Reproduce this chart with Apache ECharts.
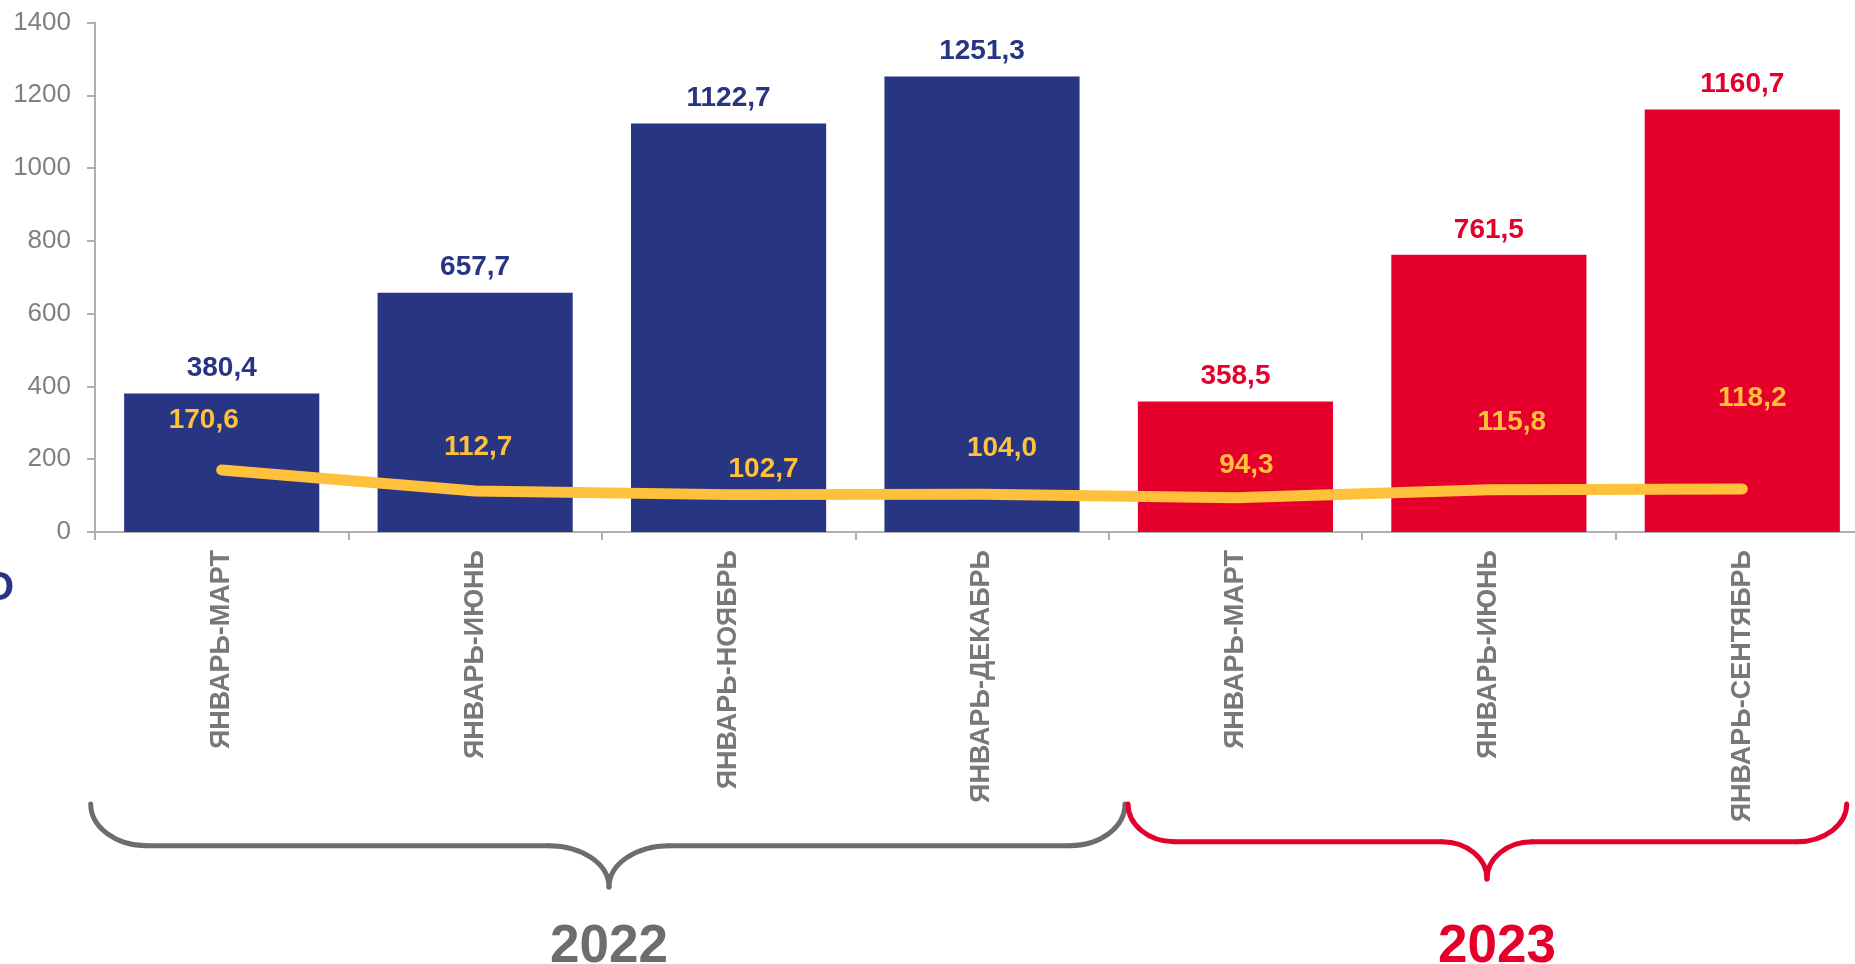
<!DOCTYPE html>
<html>
<head>
<meta charset="utf-8">
<script src="https://cdn.jsdelivr.net/npm/echarts@6/dist/echarts.min.js"></script>
<style>
html,body{margin:0;padding:0;background:#fff;overflow:hidden;}
#chart{width:1870px;height:964px;}
</style>
</head>
<body>
<div id="chart"></div>
<script>
// ---- data ----
const categories = ['ЯНВАРЬ-МАРТ','ЯНВАРЬ-ИЮНЬ','ЯНВАРЬ-НОЯБРЬ','ЯНВАРЬ-ДЕКАБРЬ','ЯНВАРЬ-МАРТ','ЯНВАРЬ-ИЮНЬ','ЯНВАРЬ-СЕНТЯБРЬ'];
const years = ['2022','2022','2022','2022','2023','2023','2023'];
const barValues = [380.4, 657.7, 1122.7, 1251.3, 358.5, 761.5, 1160.7];
const lineValues = [170.6, 112.7, 102.7, 104.0, 94.3, 115.8, 118.2];
const yAxisMin = 0, yAxisMax = 1400, yAxisStep = 200;
const yearLabels = ['2022', '2023'];

// ---- styles ----
const NAVY = '#283583', RED = '#E4002B', YELLOW = '#FFC13B', GRAY = '#6d6d6d';
const yearColor = { '2022': NAVY, '2023': RED };
const lineLabelOffsets = [[-18,-50],[3,-44],[35,-25],[20,-46],[11,-32],[23,-68],[10,-91]];
const FONT = '"Liberation Sans", Arial, sans-serif';
const fmt = v => v.toFixed(1).replace('.', ',');

function brace(x1, x2, xm, yT, yM, yB, r1, rm, r2, color) {
  const k = 0.5523, ry = yM - yT, rb = yB - yM;
  const st = { stroke: color, lineWidth: 5, fill: null, lineCap: 'round' };
  const bz = (a, b, c, d, e, f, g, h) => ({ type: 'bezierCurve', silent: true,
    shape: { x1: a, y1: b, cpx1: c, cpy1: d, cpx2: e, cpy2: f, x2: g, y2: h }, style: Object.assign({}, st) });
  const ln = (a, b, c, d) => ({ type: 'line', silent: true, shape: { x1: a, y1: b, x2: c, y2: d }, style: Object.assign({}, st) });
  return [
    bz(x1, yT, x1, yT + k*ry, x1 + r1 - k*r1, yM, x1 + r1, yM),
    ln(x1 + r1, yM, xm - rm, yM),
    bz(xm - rm, yM, xm - rm + k*rm, yM, xm, yB - k*rb, xm, yB),
    bz(xm, yB, xm, yB - k*rb, xm + rm - k*rm, yM, xm + rm, yM),
    ln(xm + rm, yM, x2 - r2, yM),
    bz(x2 - r2, yM, x2 - r2 + k*r2, yM, x2, yT + k*ry, x2, yT)
  ];
}

const chart = echarts.init(document.getElementById('chart'), null, {renderer: 'canvas'});

const option = {
  animation: false,
  backgroundColor: '#fff',
  grid: { left: 95, top: 22.5, bottom: 432, right: 1, containLabel: false },
  xAxis: {
    type: 'category',
    data: categories,
    boundaryGap: true,
    axisLine: { show: true, lineStyle: { color: '#b0b0b0', width: 2 } },
    axisTick: { show: true, length: 8, lineStyle: { color: '#b0b0b0', width: 2 } },
    axisLabel: {
      rotate: 90, margin: 18, interval: 0,
      color: '#787878', fontFamily: FONT, fontWeight: 'bold', fontSize: 27
    }
  },
  yAxis: {
    type: 'value',
    min: yAxisMin, max: yAxisMax, interval: yAxisStep,
    axisLine: { show: true, lineStyle: { color: '#b0b0b0', width: 2 } },
    axisTick: { show: true, length: 8, lineStyle: { color: '#b0b0b0', width: 2 } },
    splitLine: { show: false },
    axisLabel: { margin: 24, color: '#808080', fontFamily: FONT, fontSize: 26,
      formatter: v => String(v) }
  },
  series: [
    {
      type: 'bar',
      barCategoryGap: '23%',
      data: barValues.map((v, i) => ({
        value: v,
        itemStyle: { color: yearColor[years[i]] },
        label: { color: yearColor[years[i]] }
      })),
      label: {
        show: true, position: 'top', distance: 11,
        fontFamily: FONT, fontWeight: 'bold', fontSize: 28,
        formatter: p => fmt(p.value)
      },
      z: 2
    },
    {
      type: 'line',
      data: lineValues.map((v, i) => ({
        value: v,
        label: { offset: lineLabelOffsets[i] }
      })),
      symbol: 'circle', symbolSize: 1, showSymbol: true,
      itemStyle: { color: YELLOW },
      lineStyle: { color: YELLOW, width: 11, cap: 'round', join: 'round' },
      label: {
        show: true, position: 'inside',
        color: YELLOW, fontFamily: FONT, fontWeight: 'bold', fontSize: 28,
        formatter: p => fmt(p.value)
      },
      z: 5
    }
  ],
  graphic: [].concat(
    brace(90.7, 1125, 609, 804, 845.7, 887, 56, 60, 55, GRAY),
    brace(1128, 1846.7, 1487, 804, 841.7, 879, 46, 45, 50, RED),
    [
      { type: 'text', x: 609, y: 974, silent: true, style: { text: yearLabels[0], fill: GRAY,
          font: 'bold 53px ' + FONT, textAlign: 'center', textVerticalAlign: 'bottom', verticalAlign: 'bottom' } },
      { type: 'text', x: 1497, y: 974, silent: true, style: { text: yearLabels[1], fill: RED,
          font: 'bold 53px ' + FONT, textAlign: 'center', textVerticalAlign: 'bottom', verticalAlign: 'bottom' } },
      { type: 'text', x: -17, y: 589, silent: true, style: { text: 'О', fill: NAVY,
          font: 'bold 40px ' + FONT, textAlign: 'left', verticalAlign: 'middle', textVerticalAlign: 'middle' } }
    ]
  )
};
chart.setOption(option);
</script>
</body>
</html>
